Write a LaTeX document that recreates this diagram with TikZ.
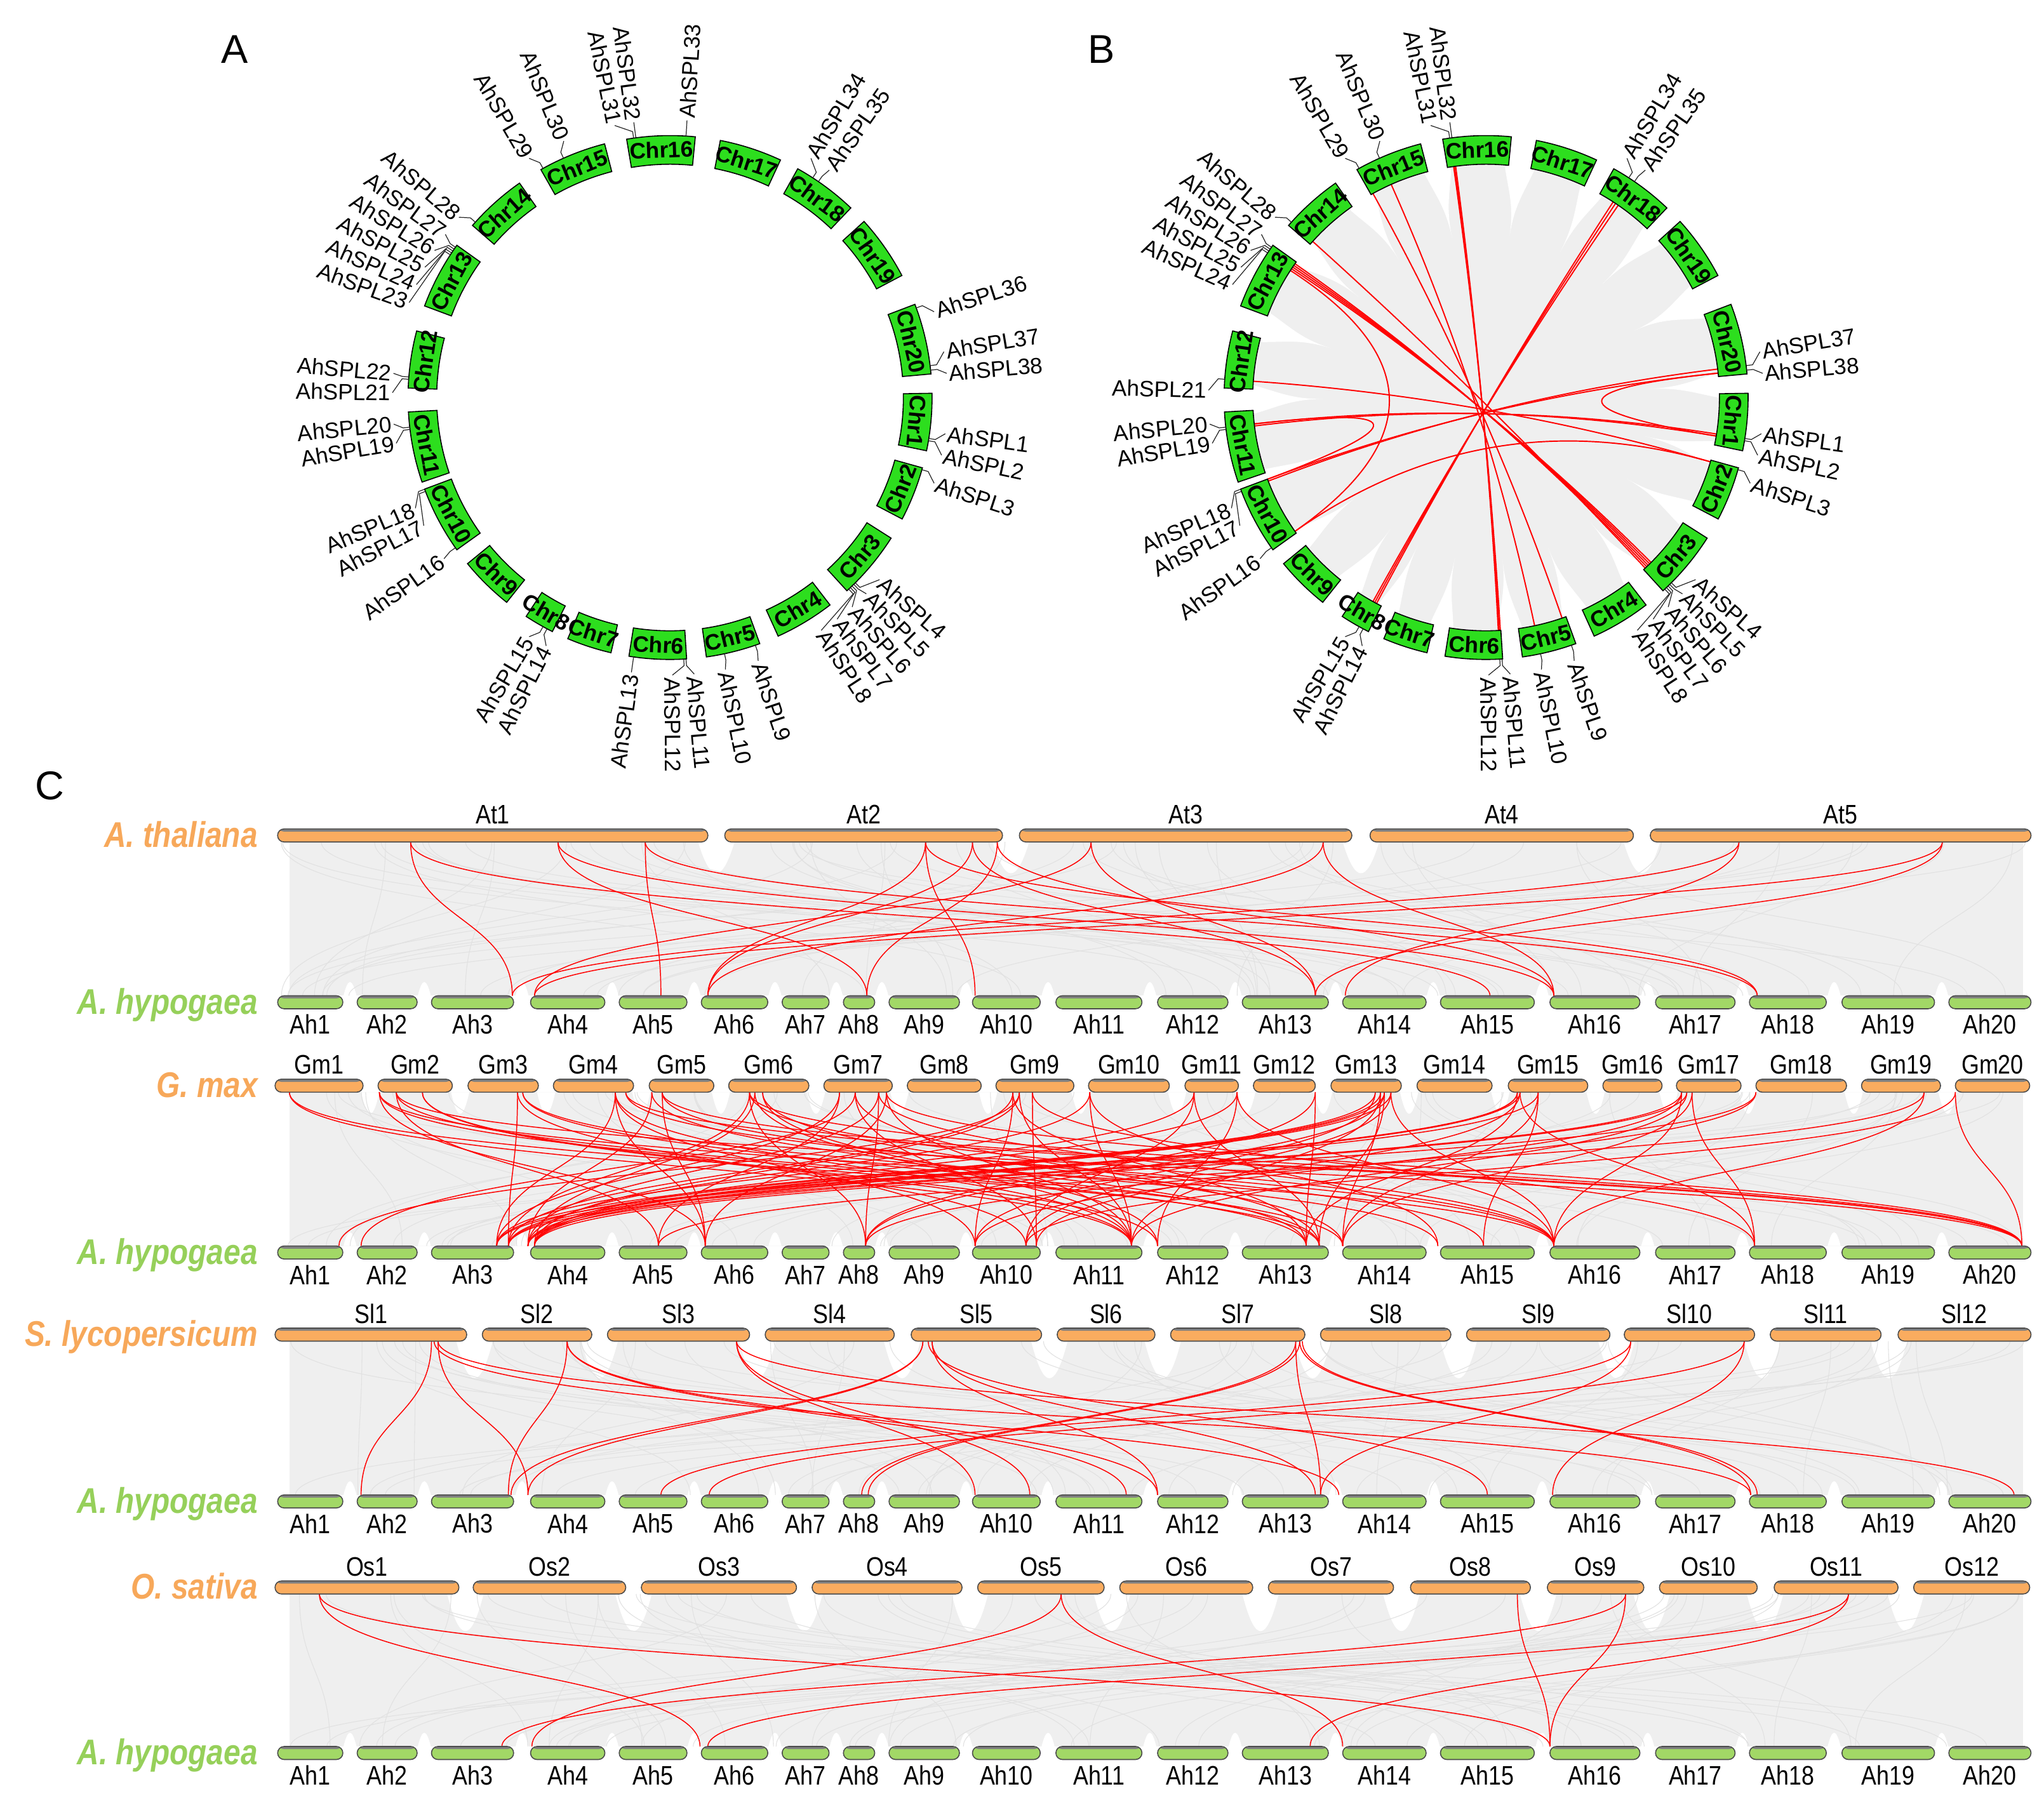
\documentclass[tikz,border=0pt]{standalone}
\usepackage{fontspec}
\setmainfont{Liberation Sans}
\newfontfamily\condfont[FakeStretch=0.85]{Liberation Sans}
\usetikzlibrary{calc}
\definecolor{chrgreen}{RGB}{45,222,30}
\definecolor{obarc}{RGB}{250,172,95}
\definecolor{gbarc}{RGB}{162,216,102}
\definecolor{spor}{RGB}{247,168,90}
\definecolor{spgr}{RGB}{150,208,90}
\definecolor{bggray}{RGB}{239,239,239}
\definecolor{txgray}{RGB}{225,225,225}
\definecolor{lnkred}{RGB}{255,0,0}
\tikzset{
  chrbox/.style={draw=black, line width=0.45pt, fill=chrgreen},
  chrtxt/.style={inner sep=0pt, font=\fontsize{10}{12}\selectfont\bfseries},
  glab/.style={inner sep=0.8pt, font=\fontsize{10}{12}\selectfont},
  gline/.style={line width=0.35pt, draw=black!85},
  redlink/.style={draw=lnkred, line width=0.55pt},
  synred/.style={draw=lnkred, line width=0.42pt},
  txline/.style={draw=txgray, line width=0.3pt},
  obar/.style={draw=black!70, line width=0.45pt, fill=obarc, rounded corners=2.9pt, minimum height=5.84pt, inner sep=0pt,
    path picture={\fill[black!50] ([yshift=1pt]path picture bounding box.north west) rectangle ([yshift=-1.2pt]path picture bounding box.north east);}},
  gbar/.style={obar, fill=gbarc},
  clab/.style={inner sep=0pt, font=\condfont\fontsize{12}{14}\selectfont},
  spl/.style={inner sep=0pt, anchor=base east, font=\condfont\fontsize{16}{18}\selectfont\bfseries\itshape},
  plab/.style={inner sep=0pt, font=\fontsize{18}{20}\selectfont},
}
\newcommand\chrsec[5]{%
  \pgfmathsetmacro\hw{#4/2/190*57.2958}%
  \draw[chrbox] ($(#1)+({90-#3+\hw}:179)$) arc[start angle={90-#3+\hw}, end angle={90-#3-\hw}, radius=179] -- ($(#1)+({90-#3-\hw}:201)$) arc[start angle={90-#3-\hw}, end angle={90-#3+\hw}, radius=201] -- cycle;
  \node[chrtxt, rotate=#5] (#1#2) at ($(#1)+({90-#3}:190)$) {#2};}
\newcommand\glr[4]{%
  \draw[gline] ($(#1)+({90-#3}:201)$) -- ($(#1)+({90-#3}:206)$) -- ($(#1)+({90-#4}:213)$);
  \node[glab, anchor=west, rotate={90-#4}] (#1l#2) at ($(#1)+({90-#4}:213)$) {AhSPL#2};}
\newcommand\gll[4]{%
  \draw[gline] ($(#1)+({90-#3}:201)$) -- ($(#1)+({90-#3}:206)$) -- ($(#1)+({90-#4}:213)$);
  \node[glab, anchor=east, rotate={270-#4}] (#1l#2) at ($(#1)+({90-#4}:213)$) {AhSPL#2};}
\newcommand\clink[2]{\draw[redlink] ($(B)+({90-#1}:179)$) .. controls ($(B)+({90-#1}:59.7)$) and ($(B)+({90-#2}:59.7)$) .. ($(B)+({90-#2}:179)$);}
\newcommand\syn[4]{\draw[synred] (#1,-#3) .. controls (#1,{-(#3+#4)/2}) and (#2,{-(#3+#4)/2}) .. (#2,-#4);}
\newcommand\texture[3]{\foreach \k in {1,...,#1}{\pgfmathsetmacro\xa{215+1340*rnd}\pgfmathsetmacro\xb{215+1340*rnd}%
   \draw[txline] (\xa,-#2) .. controls (\xa,{-(#2+#3)/2}) and (\xb,{-(#2+#3)/2}) .. (\xb,-#3);}}
\newcommand\arch[4]{\fill[white] ({#1-#3},-#2) .. controls ({#1-0.3*#3},{-(#2+(#4))}) and ({#1+0.3*#3},{-(#2+(#4))}) .. ({#1+#3},-#2) -- cycle;}
\newcommand\tbar[5]{\node[obar, minimum width={(#3-#2)*0.5841pt}] (#1) at ({(#2+#3)/2},-#4) {};
  \node[clab] (#1t) at ({(#2+#3)/2},{-#4+16}) {#5};}
\newcommand\bbar[5]{\node[gbar, minimum width={(#3-#2)*0.5841pt}] (#1) at ({(#2+#3)/2},-#4) {};
  \node[clab] (#1t) at ({(#2+#3)/2},{-#4-17}) {#5};}
\def\ahlist{1/213/263,2/274/320,3/331/394,4/407/464,5/475/527,6/538/589,7/600/636,8/647/671,9/682/736,10/746/798,11/810/876,12/888/942,13/953/1019,14/1030/1094,15/1105/1177,16/1189/1258,17/1270/1331,18/1342/1401,19/1413/1484,20/1495/1558}
\def\ahgaps{268.5,325.5,400.5,469.5,532.5,594.5,641.5,676.5,741,804,882,947.5,1024.5,1099.5,1183,1264,1336.5,1407,1489.5}
\begin{document}
\begin{tikzpicture}[x=0.020529cm,y=0.020529cm]
\useasboundingbox (0,0) rectangle (1568,-1383);
\coordinate (A) at (514,-305);
\coordinate (B) at (1140,-305);
\node[plab] (labA) at (180,-38) {A};
\node[plab] (labB) at (845,-38) {B};
\node[plab] (labC) at (38,-603) {C};

% ---------- panel B background ----------
\fill[bggray] (B) circle (179);
\foreach \g/\w in {8.3/3.8, 27/3.1, 45.7/3.1, 65.7/4.5, 87/3.1, 103.7/3, 120/3.5, 140.1/3.6, 157.6/3.3, 174.2/3.2, 191/3, 204.8/2.8, 216/3.6, 232.5/3, 250.3/1.8, 269.5/3.6, 287.6/3.9, 308.3/3.8, 327.7/3.8, 348/3.5}{
  \fill[white] ($(B)+({90-\g+\w}:180)$) .. controls ($(B)+({90-\g+0.6*\w}:160)$) and ($(B)+({90-\g}:150)$) .. ($(B)+({90-\g}:125)$) .. controls ($(B)+({90-\g}:150)$) and ($(B)+({90-\g-0.6*\w}:160)$) .. ($(B)+({90-\g-\w}:180)$) -- cycle;}
% ---------- panel B links ----------
\foreach \qa/\qb in {352/176.5, 352.5/177, 352.2/176.8, 33/208, 34.5/209, 33.7/208.5, 331/161, 336/168, 312/137, 303.5/135, 304/135.5, 304.5/136, 305/136.5, 274/106, 263/99, 263.5/99.5, 249/83, 249.5/84, 84/99.5, 263.5/249.5, 303/235, 235/106}{\clink{\qa}{\qb}}

% ---------- chromosomes ----------
\foreach \qp in {A,B}{
  \foreach \qc/\qt/\qw/\qr in {Chr16/358/50/2, Chr17/18/46/-18, Chr18/36.4/48/-36.4, Chr19/55/48/-55, Chr20/77/52/-77, Chr1/95.4/42/-95.4, Chr2/111.6/40/68.4, Chr3/130/50/50, Chr4/149/44/31, Chr5/166/40/14, Chr6/182.7/42/-2.7, Chr7/198/33/-18, Chr8/210/22/-30, Chr9/224.6/40/-44.6, Chr10/242/50/-62, Chr11/259/52/-79, Chr12/278.4/42/81.6, Chr13/298/50/62, Chr14/318/46/42, Chr15/338/50/22}{
    \chrsec{\qp}{\qc}{\qt}{\qw}{\qr}}}

% ---------- gene labels A ----------
\foreach \qi/\qg/\ql in {33/3.5/3.5, 34/33/30.5, 35/34.5/35, 36/70/72, 37/83/80.5, 38/84/85, 1/99/97.5, 2/99.5/102, 3/106/108, 4/135/131, 5/135.5/135, 6/136/139, 7/136.5/143, 8/137/147, 9/161/161.5, 10/168/168.5, 11/176.5/175, 12/177/179.5}{\glr{A}{\qi}{\qg}{\ql}}
\foreach \qi/\qg/\ql in {13/188/188, 14/208/206.5, 15/209/210.5, 16/235/234.5, 17/249/242.5, 18/249.5/246.5, 19/263/260.5, 20/263.5/264.5, 21/274/271, 22/274.5/275, 23/303/290, 24/303.5/294, 25/304/298, 26/304.5/302, 27/305/306, 28/312/310.5, 29/331/329.5, 30/336/337.5, 31/352/348.5, 32/352.5/352.5}{\gll{A}{\qi}{\qg}{\ql}}
% ---------- gene labels B ----------
\foreach \qi/\qg/\ql in {34/33/30.5, 35/34.5/35, 37/83/80.5, 38/84/85, 1/99/97.5, 2/99.5/102, 3/106/108, 4/135/131, 5/135.5/135, 6/136/139, 7/136.5/143, 8/137/147, 9/161/161.5, 10/168/168.5, 11/176.5/175, 12/177/179.5}{\glr{B}{\qi}{\qg}{\ql}}
\foreach \qi/\qg/\ql in {14/208/206.5, 15/209/210.5, 16/235/234.5, 17/249/242.5, 18/249.5/246.5, 19/263/260.5, 20/263.5/264.5, 21/274/271.5, 24/303.5/294, 25/304/298, 26/304.5/302, 27/305/306, 28/312/310.5, 29/331/329.5, 30/336/337.5, 31/352/348.5, 32/352.5/352.5}{\gll{B}{\qi}{\qg}{\ql}}

% ---------- panel C backgrounds ----------
\pgfmathsetseed{4242}
\foreach \ya/\yb in {646/764, 838/956, 1029/1147, 1223/1340}{
  \fill[bggray] (222,-\ya) rectangle (1552,-\yb);
  \foreach \gx in \ahgaps {\arch{\gx}{\yb}{5}{-14}}
}
\foreach \gx in {549.5, 775.5, 1044, 1259.5}{\arch{\gx}{646}{14}{32}}
\foreach \gx in {284,353,419,492,553,626,690,758,829,903,956,1015,1081,1151,1224,1280,1341,1422,1494}{\arch{\gx}{838}{7}{22}}
\foreach \gx in {364,460,581,692,805,892,1007,1119,1240,1352,1449}{\arch{\gx}{1029}{14}{38}}
\foreach \gx in {357,486,617,744,853,967,1075,1180,1267,1354,1462}{\arch{\gx}{1223}{14}{38}}
\texture{70}{646}{764}
\texture{70}{838}{956}
\texture{70}{1029}{1147}
\texture{70}{1223}{1340}

% ---------- panel C red links ----------
\foreach \qa/\qb in {315/393, 315/1143, 428/665, 428/1192, 495/507, 495/1348, 710/543, 710/748, 710/1348, 746/543, 746/1009, 765/665, 765/1192, 837/410, 837/1009, 1015/543, 1015/1192, 1334/393, 1334/1032, 1490/410, 1490/1009}{\syn{\qa}{\qb}{646}{764}}
\foreach \qa/\qb in {222/868, 222/1012, 291/541, 291/1002, 291/1192, 304/505, 304/1030, 304/1551, 324/868, 324/888, 782/260, 656/277, 397/390, 397/787, 401/1012, 401/1103, 472/381, 472/541, 472/748, 472/868, 480/1192, 480/1551, 500/405, 500/1002, 508/541, 508/1138, 508/1551, 575/390, 575/664, 575/1192, 575/1551, 579/410, 579/868, 585/888, 585/1030, 644/381, 644/505, 656/795, 656/1012, 674/405, 674/664, 674/1192, 680/541, 680/868, 680/1551, 777/390, 777/748, 777/1002, 782/410, 782/868, 792/795, 792/1346, 836/405, 836/868, 836/1103, 916/381, 916/787, 916/1012, 949/410, 949/888, 949/1192, 1009/664, 1009/1002, 1055/381, 1055/748, 1059/390, 1059/868, 1059/1030, 1062/405, 1062/664, 1062/1012, 1067/410, 1067/787, 1067/1192, 1164/381, 1164/405, 1164/1002, 1166/390, 1166/795, 1166/1346, 1180/410, 1180/1030, 1180/1138, 1290/390, 1290/748, 1290/1192, 1294/405, 1294/868, 1298/1030, 1298/1346, 1347/410, 1347/664, 1476/505, 1476/1192, 1500/787, 1500/1551}{\syn{\qa}{\qb}{838}{956}}
\foreach \qa/\qb in {331/277, 336/405, 333/1027, 336/1343, 435/390, 435/864, 435/888, 565/748, 565/790, 565/1545, 708/392, 708/405, 715/888, 715/1009, 712/1141, 994/661, 997/666, 994/1013, 997/1343, 999/1348, 1251/507, 1251/1013, 1338/544, 1338/1191}{\syn{\qa}{\qb}{1029}{1147}}
\foreach \qa/\qb in {245/537, 245/1189, 814/408, 814/1030, 1164/1189, 1247/1189, 1247/385, 1418/543, 1418/1005}{\syn{\qa}{\qb}{1223}{1340}}

% ---------- panel C bars ----------
\foreach \n/\xa/\xb in {1/213/543, 2/556/769, 3/782/1037, 4/1051/1253, 5/1266/1558}{\tbar{At\n}{\xa}{\xb}{641}{At\n}}
\foreach \n/\xa/\xb in {1/211/278.5, 2/290/347, 3/359/413, 4/424.5/486, 5/498/547.6, 6/559/620.5, 7/632/684.5, 8/696/752.7, 9/764/823.8, 10/835/897, 11/909/950, 12/961.5/1009, 13/1021/1075, 14/1087/1144.6, 15/1157/1218, 16/1229.6/1275, 17/1286/1335.6, 18/1347/1416.5, 19/1428/1488.6, 20/1500/1557}{\tbar{Gm\n}{\xa}{\xb}{833}{Gm\n}}
\foreach \n/\xa/\xb in {1/211/358, 2/370/454, 3/466/575, 4/587/686, 5/699/799, 6/811/886, 7/898/1001, 8/1013/1113, 9/1125/1235, 10/1246/1346, 11/1358/1443, 12/1456/1558}{\tbar{Sl\n}{\xa}{\xb}{1024}{Sl\n}}
\foreach \n/\xa/\xb in {1/211/352, 2/363/480, 3/492/611, 4/623/738, 5/750/847, 6/859/961, 7/973/1069, 8/1082/1174, 9/1187/1261, 10/1273/1348, 11/1361/1456, 12/1468/1557}{\tbar{Os\n}{\xa}{\xb}{1218}{Os\n}}
\foreach \s/\y in {1/769, 2/961, 3/1152, 4/1345}{\foreach \n/\xa/\xb in \ahlist {\bbar{s\s Ah\n}{\xa}{\xb}{\y}{Ah\n}}}

% ---------- species labels ----------
\node[spl, text=spor] (spAt) at (198,-650) {A. thaliana};
\node[spl, text=spgr] (spAh1) at (198,-778) {A. hypogaea};
\node[spl, text=spor] (spGm) at (198,-842) {G. max};
\node[spl, text=spgr] (spAh2) at (198,-970) {A. hypogaea};
\node[spl, text=spor] (spSl) at (198,-1033) {S. lycopersicum};
\node[spl, text=spgr] (spAh3) at (198,-1161) {A. hypogaea};
\node[spl, text=spor] (spOs) at (198,-1227) {O. sativa};
\node[spl, text=spgr] (spAh4) at (198,-1354) {A. hypogaea};
\end{tikzpicture}
\end{document}
